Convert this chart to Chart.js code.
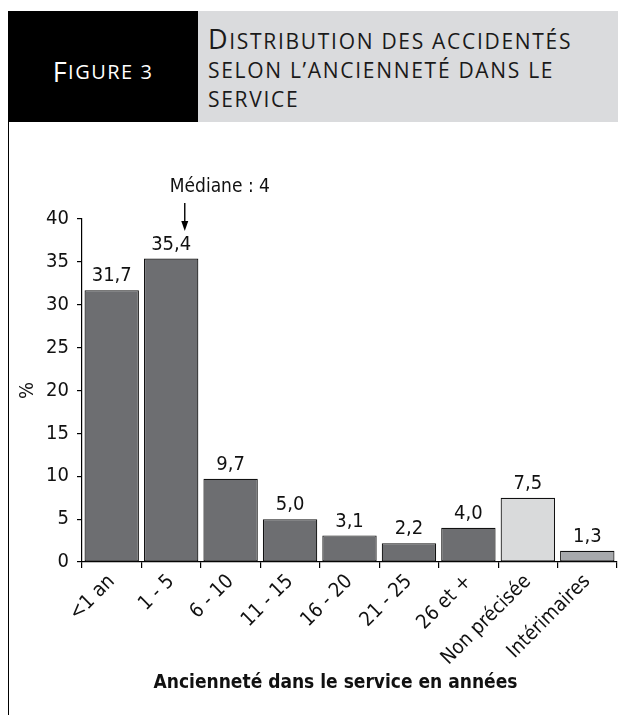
<!DOCTYPE html>
<html>
<head>
<meta charset="utf-8">
<script src="https://cdn.jsdelivr.net/npm/chart.js@4"></script>
<style>
html,body{margin:0;padding:0;background:#fff;width:618px;height:715px;overflow:hidden;}
#wrap{position:relative;width:618px;height:715px;}
.hd{font-family:"Open Sans",sans-serif;text-transform:uppercase;white-space:nowrap;}
.big{font-size:27px;}
#fig{position:absolute;left:8px;top:11px;width:190px;height:111px;background:#000;color:#fff;
 font-size:20px;letter-spacing:1.5px;display:flex;align-items:center;justify-content:center;box-sizing:border-box;padding-top:9px;}
#ttl{position:absolute;left:198px;top:11px;width:420px;height:111px;background:#dadbdd;color:#1a1a1a;
 font-size:21px;line-height:29px;box-sizing:border-box;padding:13px 0 0 10px;letter-spacing:1.7px;}
#bord{position:absolute;left:8px;top:122px;width:1px;height:593px;background:#000;}
canvas{position:absolute;left:0;top:0;}
</style>
</head>
<body>
<div id="wrap">
<canvas id="c" width="618" height="715"></canvas>
<div id="fig" class="hd"><span class="big">F</span>igure 3</div>
<div id="ttl" class="hd"><span class="big">D</span>istribution des accidentés<br>selon l’ancienneté dans le<br>service</div>
<div id="bord"></div>
</div>
<script>
const categories = ["<1 an","1 - 5","6 - 10","11 - 15","16 - 20","21 - 25","26 et +","Non précisée","Intérimaires"];
const values = [31.7, 35.4, 9.7, 5.0, 3.1, 2.2, 4.0, 7.5, 1.3];
const barColors = ["#6d6e71","#6d6e71","#6d6e71","#6d6e71","#6d6e71","#6d6e71","#6d6e71","#d9dadb","#a7a9ac"];
const yTicks = [0,5,10,15,20,25,30,35,40];
const xTitle = "Ancienneté dans le service en années";
const medianLabel = "Médiane : 4";
const medianValue = 4;
const medianRange = [1, 5];
const medianCategory = 1;

const FONT = "'DejaVu Sans Condensed','DejaVu Sans',sans-serif";

const labelPlugin = {
  id: 'vals',
  afterDatasetsDraw(chart) {
    const ctx = chart.ctx;
    const meta = chart.getDatasetMeta(0);
    const ca = chart.chartArea;
    ctx.save();
    ctx.font = "20px " + FONT;
    ctx.fillStyle = "#111";
    ctx.textAlign = "center";
    ctx.textBaseline = "middle";
    meta.data.forEach((bar, i) => {
      ctx.fillText(values[i].toFixed(1).replace('.', ','), bar.x, bar.y - 14);
    });
    // median annotation
    const b = meta.data[medianCategory];
    const frac = (medianValue - medianRange[0]) / (medianRange[1] - medianRange[0]);
    const x = b.x - b.width / 2 + frac * b.width;
    const topY = chart.scales.y.getPixelForValue(40);
    ctx.font = "19px " + FONT;
    ctx.textAlign = "left";
    ctx.fillText(medianLabel, x - 15, topY - 32);
    ctx.strokeStyle = "#000";
    ctx.lineWidth = 1.4;
    ctx.beginPath();
    ctx.moveTo(x, topY - 16);
    ctx.lineTo(x, topY + 4);
    ctx.stroke();
    ctx.beginPath();
    ctx.moveTo(x - 3.5, topY + 2);
    ctx.lineTo(x, topY + 12);
    ctx.lineTo(x + 3.5, topY + 2);
    ctx.closePath();
    ctx.fillStyle = "#000";
    ctx.fill();
    // x axis title
    ctx.font = "bold 19px " + FONT;
    ctx.textAlign = "center";
    ctx.fillStyle = "#111";
    ctx.fillText(xTitle, (ca.left + ca.right) / 2 - 14, 683);
    ctx.restore();
  }
};

new Chart(document.getElementById('c'), {
  type: 'bar',
  data: {
    labels: categories,
    datasets: [{
      data: values,
      backgroundColor: barColors,
      borderColor: "#111",
      borderWidth: 1.2,
      borderSkipped: false,
      barPercentage: 0.915,
      categoryPercentage: 1.0
    }]
  },
  options: {
    responsive: false,
    animation: false,
    devicePixelRatio: 1,
    layout: { padding: { top: 219, right: 1, left: 0, bottom: 0 } },
    plugins: { legend: { display: false }, tooltip: { enabled: false } },
    scales: {
      y: {
        min: 0, max: 40,
        afterFit(s) { s.width = 82; },
        afterBuildTicks(s) { s.ticks = yTicks.map(v => ({ value: v })); },
        border: { display: true, color: "#000", width: 1.2 },
        grid: { drawOnChartArea: false, drawTicks: true, tickLength: 5, color: "#000", lineWidth: 1.2 },
        ticks: { color: "#111", font: { family: FONT, size: 20 }, padding: 8 },
        title: { display: true, text: "%", color: "#111", font: { family: FONT, size: 20 }, padding: { top: 16, bottom: 0 } }
      },
      x: {
        afterFit(s) { s.height = 153; },
        border: { display: true, color: "#000", width: 1.2 },
        grid: { drawOnChartArea: false, drawTicks: true, tickLength: 6, color: "#000", lineWidth: 1.2, offset: true },
        ticks: { color: "#111", font: { family: FONT, size: 20 }, minRotation: 45, maxRotation: 45, padding: 2, autoSkip: false }
      }
    }
  },
  plugins: [labelPlugin]
});
</script>
</body>
</html>
